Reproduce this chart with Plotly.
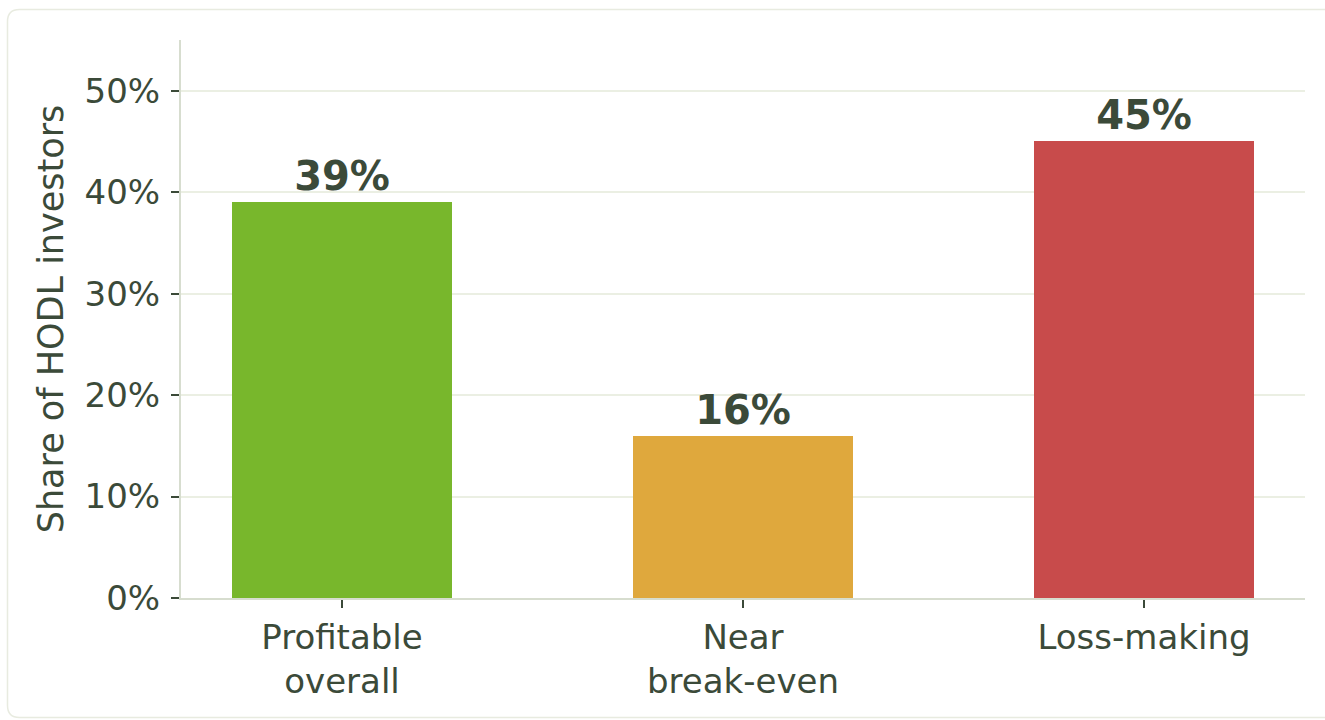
import plotly.graph_objects as go

categories = ["Profitable<br>overall", "Near<br>break-even", "Loss-making"]
shares = [39, 16, 45]
bar_colors = ["#78b72c", "#dfa83d", "#c84b4b"]
label_text = ["39%", "16%", "45%"]
y_ticks = [0, 10, 20, 30, 40, 50]
y_tick_text = ["0%", "10%", "20%", "30%", "40%", "50%"]

W, H = 1325, 720
L, R, T, B = 181, 20, 40, 122
PW, PH = W - L - R, H - T - B

def px(x):
    return (x - L) / PW

def py(y):
    return (H - B - y) / PH

# card outline (rounded rectangle, right edge beyond the view)
x0, y0, x1, y1, rad = 7.5, 9.5, 1345, 717.5, 12
path = (
    f"M {px(x0)},{py(y0 + rad)} "
    f"Q {px(x0)},{py(y0)} {px(x0 + rad)},{py(y0)} "
    f"L {px(x1 - rad)},{py(y0)} "
    f"Q {px(x1)},{py(y0)} {px(x1)},{py(y0 + rad)} "
    f"L {px(x1)},{py(y1 - rad)} "
    f"Q {px(x1)},{py(y1)} {px(x1 - rad)},{py(y1)} "
    f"L {px(x0 + rad)},{py(y1)} "
    f"Q {px(x0)},{py(y1)} {px(x0)},{py(y1 - rad)} Z"
)

txt = "#3b4a39"
fig = go.Figure(
    go.Bar(
        x=[0, 1, 2],
        y=shares,
        width=0.55,
        marker=dict(color=bar_colors, line=dict(width=0)),
        text=label_text,
        textposition="outside",
        cliponaxis=False,
        textfont=dict(family="DejaVu Sans", size=40, color=txt, weight="bold"),
        hoverinfo="skip",
    )
)

fig.update_layout(
    width=W,
    height=H,
    margin=dict(l=L, r=R, t=T, b=B, pad=0),
    paper_bgcolor="white",
    plot_bgcolor="white",
    font=dict(family="DejaVu Sans", color=txt, size=34),
    showlegend=False,
    bargap=0,
    shapes=[
        dict(type="path", path=path, xref="paper", yref="paper",
             line=dict(color="#e8ebe0", width=1.5), fillcolor="rgba(0,0,0,0)", layer="below")
    ],
)

fig.update_xaxes(
    range=[-0.4015, 2.4015],
    tickvals=[0, 1, 2],
    ticktext=categories,
    showgrid=False,
    zeroline=False,
    showline=True,
    linecolor="#d7ddcf",
    linewidth=2,
    ticks="outside",
    ticklen=8,
    tickwidth=1.5,
    tickcolor=txt,
    tickfont=dict(size=34, color=txt),
)

fig.update_yaxes(
    range=[0, 55.0],
    tickvals=y_ticks,
    ticktext=y_tick_text,
    showgrid=True,
    gridcolor="#ebefe3",
    gridwidth=2,
    zeroline=False,
    showline=True,
    linecolor="#d7ddcf",
    linewidth=2,
    ticks="outside",
    ticklen=8,
    tickwidth=1.5,
    tickcolor=txt,
    ticklabelstandoff=4,
    tickfont=dict(size=34, color=txt),
    title=dict(text="Share of HODL investors", font=dict(size=35, color=txt), standoff=10),
)

fig.write_html("out.html")
